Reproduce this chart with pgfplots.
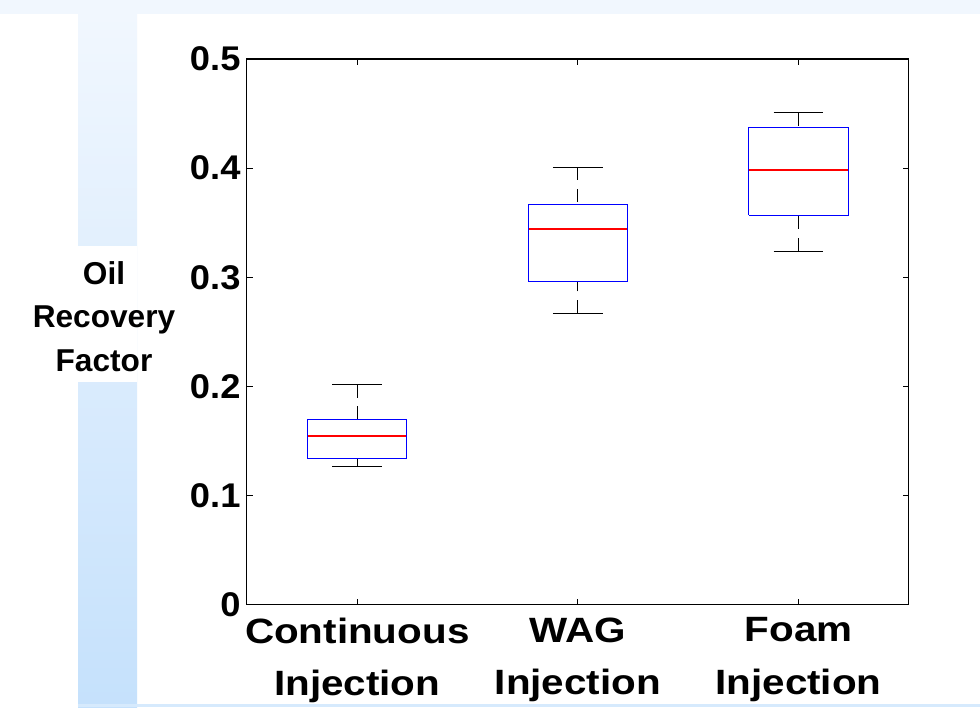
\documentclass[border=0pt]{standalone}
\usepackage{pgfplots}
\pgfplotsset{compat=1.18}
\usepackage{fontspec}
\setmainfont{Liberation Sans}
\newfontfamily\catfont[FakeStretch=1.15]{Liberation Sans}
\newfontfamily\tickfont[FakeStretch=1.06]{Liberation Sans}
\definecolor{boxblue}{RGB}{0,0,255}
\definecolor{bgtop}{RGB}{241,247,254}
\definecolor{bgbot}{RGB}{197,225,252}

\begin{document}
\begin{tikzpicture}
% slide background, 1 unit = 1 px of the reference
\begin{scope}[x=0.02cm,y=-0.02cm]
  \path[use as bounding box, fill=white] (0,0) rectangle (980,707);
  \fill[bgtop] (0,0) rectangle (980,14);
  \shade[top color=bgtop, bottom color=bgbot] (78,14) rectangle (137,707);
  \fill[white] (78,246) rectangle (137,382);
  \fill[bgbot!70] (78,704) rectangle (980,707);
\end{scope}
\begin{axis}[
  at={(4.94cm,-12.1cm)}, anchor=south west,
  scale only axis, width=13.24cm, height=10.92cm,
  xmin=0.5, xmax=3.5, ymin=0, ymax=0.5,
  xtick={1,2,3},
  xticklabels={Continuous\\Injection, WAG\\Injection, Foam\\Injection},
  ytick={0,0.1,0.2,0.3,0.4,0.5},
  yticklabel style={/pgf/number format/assume math mode=true,
    /pgf/number format/fixed, /pgf/number format/precision=1},
  tick align=inside, major tick length=0.12cm,
  axis line style={black, line width=0.6pt},
  tick style={black, line width=0.6pt},
  xticklabel style={align=center, font=\catfont\fontsize{20}{30}\selectfont\bfseries,
    inner sep=0pt, yshift=-7pt},
  yticklabel style={font=\tickfont\fontsize{19.5}{22}\selectfont\bfseries, inner sep=0pt, xshift=-3.5pt},
  ylabel={Oil\\Recovery\\Factor},
  ylabel style={rotate=-90, align=center, font=\fontsize{18}{25}\selectfont\bfseries,
    at={(axis description cs:-0.216,0.528)}, anchor=center},
  unbounded coords=jump,
]
% medians
\addplot[red, line width=1.1pt, forget plot] coordinates {(0.775,0.155) (1.225,0.155)};
\addplot[red, line width=1.1pt, forget plot] coordinates {(1.775,0.344) (2.225,0.344)};
\addplot[red, line width=1.1pt, forget plot] coordinates {(2.775,0.398) (3.225,0.398)};
% whiskers (dashed, from whisker end to box)
\addplot[black, line width=0.6pt, dash pattern=on 7.5pt off 5pt] coordinates {
  (1,0.202) (1,0.170) (1,nan) (1,0.127) (1,0.134) (1,nan)
  (2,0.401) (2,0.367) (2,nan) (2,0.267) (2,0.296) (2,nan)
  (3,0.451) (3,0.437) (3,nan) (3,0.324) (3,0.357)
};
% whisker caps
\addplot[black, line width=0.6pt] coordinates {
  (0.887,0.202) (1.113,0.202) (1,nan) (0.887,0.127) (1.113,0.127) (1,nan)
  (1.887,0.401) (2.113,0.401) (2,nan) (1.887,0.267) (2.113,0.267) (2,nan)
  (2.887,0.451) (3.113,0.451) (3,nan) (2.887,0.324) (3.113,0.324)
};
% boxes: lower and upper quartile
\addplot[boxblue, line width=0.6pt, line join=miter] coordinates {
  (0.775,0.134) (1.225,0.134) (1.225,0.170) (0.775,0.170) (0.775,0.134) (1,nan)
  (1.775,0.296) (2.225,0.296) (2.225,0.367) (1.775,0.367) (1.775,0.296) (2,nan)
  (2.775,0.357) (3.225,0.357) (3.225,0.437) (2.775,0.437) (2.775,0.357)
};
\end{axis}
\end{tikzpicture}
\end{document}
